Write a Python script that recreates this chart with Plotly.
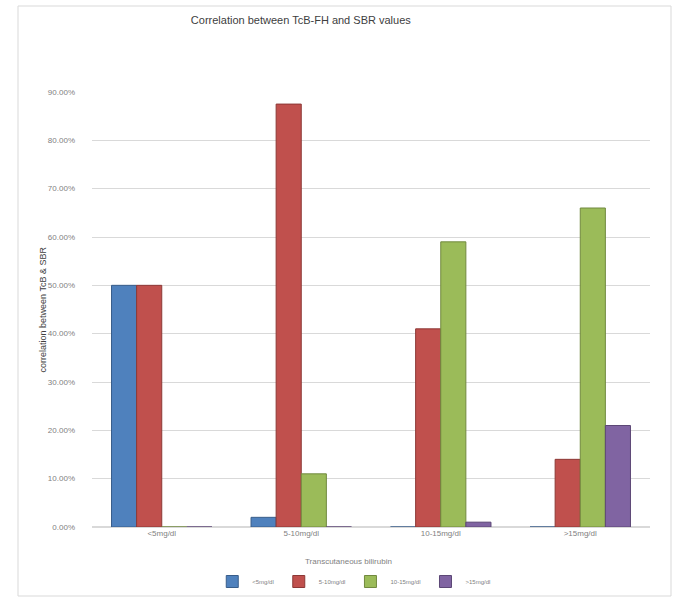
import plotly.graph_objects as go

categories = ["<5mg/dl", "5-10mg/dl", "10-15mg/dl", ">15mg/dl"]
series_names = ["<5mg/dl", "5-10mg/dl", "10-15mg/dl", ">15mg/dl"]
s1 = [0.50, 0.02, 0.0, 0.0]
s2 = [0.50, 0.875, 0.41, 0.14]
s3 = [0.0, 0.11, 0.59, 0.66]
s4 = [0.0, 0.0, 0.01, 0.21]
colors = ["#4F81BD", "#C0504D", "#9BBB59", "#8064A2"]
edge = ["#385D8A", "#8C3836", "#71893F", "#5C4776"]

W, H = 676, 599
ml, mr, mt, mb = 92, 26, 92, 72

fig = go.Figure()
for name, vals, c, e in zip(series_names, [s1, s2, s3, s4], colors, edge):
    fig.add_trace(go.Bar(x=categories, y=vals, name=name,
                         marker=dict(color=c, line=dict(color=e, width=1))))

fig.update_layout(
    width=W, height=H,
    margin=dict(l=ml, r=mr, t=mt, b=mb, autoexpand=False),
    paper_bgcolor="white", plot_bgcolor="white",
    barmode="group", bargap=0.28, bargroupgap=0,
    font=dict(family="Liberation Sans, Arial, sans-serif", color="#595959", size=8),
    title=dict(text="Correlation between TcB-FH and SBR values",
               x=0.445, xanchor="center", y=0.966, yanchor="middle",
               font=dict(size=11, color="#404040")),
    xaxis=dict(showgrid=False, showline=False, ticks="", automargin=False,
               tickfont=dict(size=8, color="#7f7f7f")),
    yaxis=dict(range=[0, 0.9], dtick=0.1, tickformat=".2%", automargin=False,
               gridcolor="#d9d9d9", gridwidth=1, zeroline=True, zerolinecolor="#d9d9d9",
               showline=False, ticks="", ticklabelstandoff=16,
               tickfont=dict(size=8, color="#7f7f7f")),
    legend=dict(orientation="h", x=0.47, xanchor="center",
                yref="container", y=(H - 567) / H, yanchor="top",
                bgcolor="rgba(0,0,0,0)",
                font=dict(size=6, color="#7f7f7f"), itemwidth=30, tracegroupgap=0),
    annotations=[
        dict(text="correlation between TcB & SBR", xref="paper", yref="paper",
             x=(35 - ml) / (W - ml - mr), y=0.5, textangle=-90,
             showarrow=False, font=dict(size=9, color="#404040")),
        dict(text="Transcutaneous bilirubin", xref="paper", yref="paper",
             x=0.46, y=-(561 - (H - mb)) / (H - mt - mb), yanchor="middle",
             showarrow=False, font=dict(size=8, color="#7f7f7f")),
    ],
    shapes=[dict(type="rect", xref="paper", yref="paper",
                 x0=(18 - ml) / (W - ml - mr), x1=(671 - ml) / (W - ml - mr),
                 y0=-(596 - (H - mb)) / (H - mt - mb), y1=1 + (mt - 6) / (H - mt - mb),
                 line=dict(color="#d9d9d9", width=1), layer="below")],
    showlegend=True,
)

fig.write_html("out.html")
